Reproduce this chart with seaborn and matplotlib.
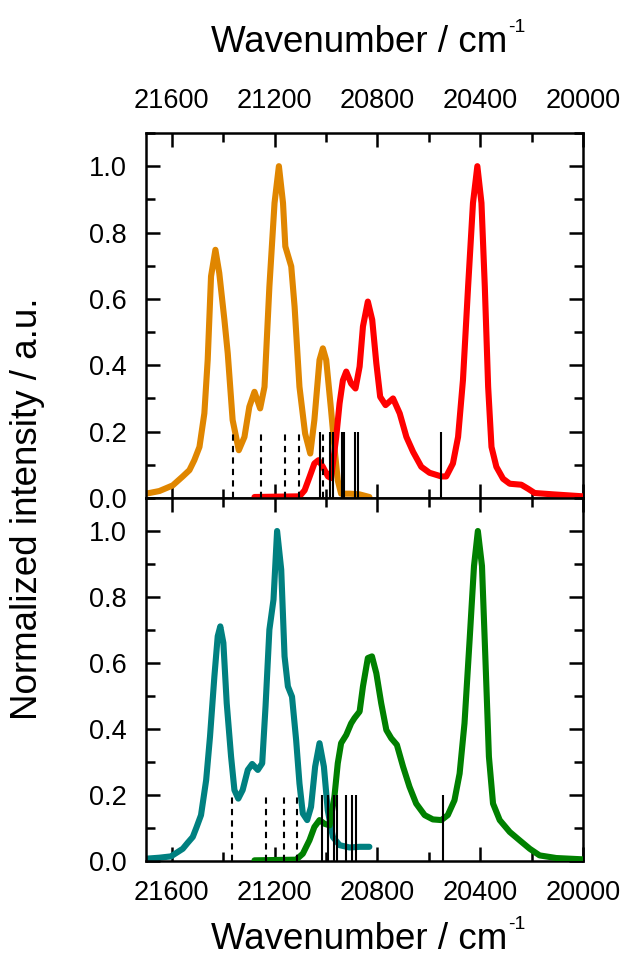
import numpy as np
import pandas as pd
import matplotlib
matplotlib.use("Agg")
import matplotlib.pyplot as plt
from matplotlib.ticker import MultipleLocator
import seaborn as sns

# ---------------- data ----------------
orange_wn = [21700, 21648, 21596, 21557, 21531, 21512, 21492, 21473, 21460, 21447, 21430, 21415,
             21395, 21382, 21363, 21339, 21317, 21298, 21278, 21256, 21239, 21220, 21200, 21183,
             21167, 21158, 21135, 21122, 21103, 21081, 21061, 21045, 21025, 21012, 20999, 20980,
             20967, 20954, 20941, 20908, 20870, 20831]
orange_val = [0.013, 0.021, 0.038, 0.065, 0.084, 0.114, 0.154, 0.255, 0.416, 0.668, 0.748, 0.678,
              0.537, 0.436, 0.235, 0.144, 0.184, 0.275, 0.320, 0.270, 0.335, 0.637, 0.889, 1.000,
              0.889, 0.758, 0.698, 0.577, 0.335, 0.194, 0.134, 0.235, 0.416, 0.451, 0.416, 0.265,
              0.154, 0.053, 0.013, 0.013, 0.011, 0.003]

red_wn = [21278, 21103, 21083, 21064, 21045, 21029, 21012, 20992, 20980, 20960, 20947, 20934,
          20921, 20902, 20885, 20869, 20856, 20837, 20820, 20804, 20789, 20768, 20739, 20713,
          20687, 20661, 20629, 20597, 20551, 20532, 20506, 20486, 20467, 20447, 20428, 20411,
          20395, 20382, 20369, 20356, 20337, 20311, 20285, 20240, 20214, 20188, 20117, 20000]
red_val = [0.003, 0.005, 0.023, 0.063, 0.104, 0.114, 0.094, 0.065, 0.060, 0.184, 0.285, 0.355,
           0.381, 0.345, 0.330, 0.396, 0.517, 0.592, 0.537, 0.406, 0.305, 0.280, 0.300, 0.255,
           0.184, 0.139, 0.094, 0.076, 0.065, 0.065, 0.104, 0.184, 0.355, 0.637, 0.889, 1.000,
           0.889, 0.637, 0.335, 0.154, 0.094, 0.058, 0.043, 0.040, 0.028, 0.015, 0.011, 0.005]

teal_wn = [21700, 21648, 21603, 21583, 21557, 21538, 21518, 21503, 21486, 21466, 21451, 21434,
           21421, 21411, 21399, 21386, 21369, 21356, 21341, 21324, 21304, 21287, 21265, 21248,
           21235, 21220, 21204, 21190, 21174, 21161, 21148, 21132, 21116, 21103, 21090, 21073,
           21058, 21042, 21025, 21008, 20993, 20973, 20947, 20908, 20869, 20831]
teal_val = [0.007, 0.010, 0.014, 0.024, 0.037, 0.055, 0.073, 0.103, 0.139, 0.245, 0.377, 0.559,
            0.681, 0.711, 0.661, 0.478, 0.316, 0.215, 0.189, 0.215, 0.276, 0.294, 0.276, 0.296,
            0.468, 0.701, 0.792, 1.000, 0.883, 0.620, 0.529, 0.498, 0.367, 0.235, 0.144, 0.124,
            0.164, 0.286, 0.357, 0.286, 0.154, 0.073, 0.048, 0.041, 0.043, 0.043]

green_wn = [21278, 21116, 21090, 21064, 21045, 21025, 21006, 20986, 20967, 20954, 20941, 20921,
            20902, 20889, 20869, 20856, 20837, 20821, 20804, 20785, 20765, 20746, 20724, 20700,
            20675, 20649, 20616, 20584, 20551, 20526, 20500, 20480, 20461, 20441, 20424, 20409,
            20393, 20380, 20366, 20350, 20324, 20285, 20247, 20207, 20169, 20104, 20000]
green_val = [0.002, 0.004, 0.022, 0.063, 0.103, 0.124, 0.113, 0.108, 0.195, 0.296, 0.357, 0.382,
             0.417, 0.433, 0.453, 0.529, 0.615, 0.620, 0.569, 0.478, 0.397, 0.372, 0.352, 0.286,
             0.225, 0.174, 0.139, 0.126, 0.124, 0.139, 0.184, 0.265, 0.417, 0.671, 0.894, 1.000,
             0.894, 0.620, 0.316, 0.174, 0.124, 0.088, 0.063, 0.037, 0.017, 0.009, 0.005]

top_dashed = [21360, 21254, 21159, 21105, 21013]
top_solid = [21023, 20984, 20971, 20939, 20930, 20887, 20874, 20554]
bot_dashed = [21364, 21234, 21163, 21111]
bot_solid = [21017, 20993, 20967, 20958, 20923, 20900, 20883, 20543]
stick_height = 0.2

x_major = [21600, 21200, 20800, 20400, 20000]
y_major = [0.0, 0.2, 0.4, 0.6, 0.8, 1.0]

xlabel_main = "Wavenumber / cm"
xlabel_sup = "-1"
ylabel = "Normalized intensity / a.u."

c_orange = "#E08600"
c_red = "#FF0000"
c_teal = "#008080"
c_green = "#008000"

# ---------------- style ----------------
sns.set_theme(style="ticks")
plt.rcParams["font.family"] = ["Liberation Sans", "DejaVu Sans"]
plt.rcParams["text.color"] = "black"
plt.rcParams["axes.labelcolor"] = "black"

W, H = 627, 959
fig = plt.figure(figsize=(W / 100, H / 100), dpi=100)
left, right = 146, 583
ax_top = fig.add_axes([left / W, 1 - 498 / H, (right - left) / W, (498 - 133) / H])
ax_bot = fig.add_axes([left / W, 1 - 861 / H, (right - left) / W, (861 - 498) / H])


def draw(ax, wn1, v1, c1, wn2, v2, c2, dashed, solid):
    df1 = pd.DataFrame({"wn": wn1, "v": v1})
    df2 = pd.DataFrame({"wn": wn2, "v": v2})
    sns.lineplot(data=df1, x="wn", y="v", ax=ax, color=c1, lw=4.4, sort=False,
                 estimator=None, zorder=2)
    sns.lineplot(data=df2, x="wn", y="v", ax=ax, color=c2, lw=4.4, sort=False,
                 estimator=None, zorder=3)
    for l in ax.lines:
        l.set_solid_joinstyle("round")
        l.set_solid_capstyle("round")
    ax.vlines(dashed, 0, stick_height, colors="black", linewidth=1.5,
              linestyles=(0, (3, 2.5)), zorder=4)
    ax.vlines(solid, 0, stick_height, colors="black", linewidth=1.5, zorder=4)
    ax.set_xlim(21700, 20000)
    ax.set_ylim(0, 1.1)
    ax.set_xticks(x_major)
    ax.xaxis.set_minor_locator(MultipleLocator(200))
    ax.set_yticks(y_major)
    ax.yaxis.set_minor_locator(MultipleLocator(0.1))
    ax.set_xlabel("")
    ax.set_ylabel("")
    for s in ax.spines.values():
        s.set_linewidth(1.8)
        s.set_color("black")
    ax.tick_params(which="both", direction="in", top=True, bottom=True, left=True, right=True,
                   width=1.8, colors="black", labelcolor="black", labelsize=19.5, pad=14)
    ax.tick_params(which="major", length=10)
    ax.tick_params(which="minor", length=6.5)
    ax.set_yticklabels([f"{v:.1f}" for v in y_major])
    ax.set_xticklabels([str(v) for v in x_major])
    ax.grid(False)


draw(ax_top, orange_wn, orange_val, c_orange, red_wn, red_val, c_red, top_dashed, top_solid)
draw(ax_bot, teal_wn, teal_val, c_teal, green_wn, green_val, c_green, bot_dashed, bot_solid)

ax_top.tick_params(axis="x", which="both", labelbottom=False, labeltop=True)
ax_bot.tick_params(axis="x", which="both", labelbottom=True, labeltop=False)

renderer = fig.canvas.get_renderer()


def wavenumber_label(baseline_px):
    y = 1 - baseline_px / H
    t = fig.text(0, y, xlabel_main, ha="left", va="baseline", fontsize=26.5, color="black")
    s = fig.text(0, y, xlabel_sup, ha="left", va="baseline", fontsize=14, color="black")
    wb = t.get_window_extent(renderer)
    ws = s.get_window_extent(renderer)
    total = wb.width + 1 + ws.width
    cx = (left + right) / 2
    x0 = cx - total / 2 + 4
    t.set_x(x0 / W)
    s.set_x((x0 + wb.width + 1) / W)
    s.set_y(1 - (baseline_px - 20) / H)


wavenumber_label(52)
wavenumber_label(949)
fig.text(28 / W, 1 - 509 / H, ylabel, ha="center", va="center", rotation=90, fontsize=26.5,
         color="black")

fig.savefig("out.png", dpi=100)
